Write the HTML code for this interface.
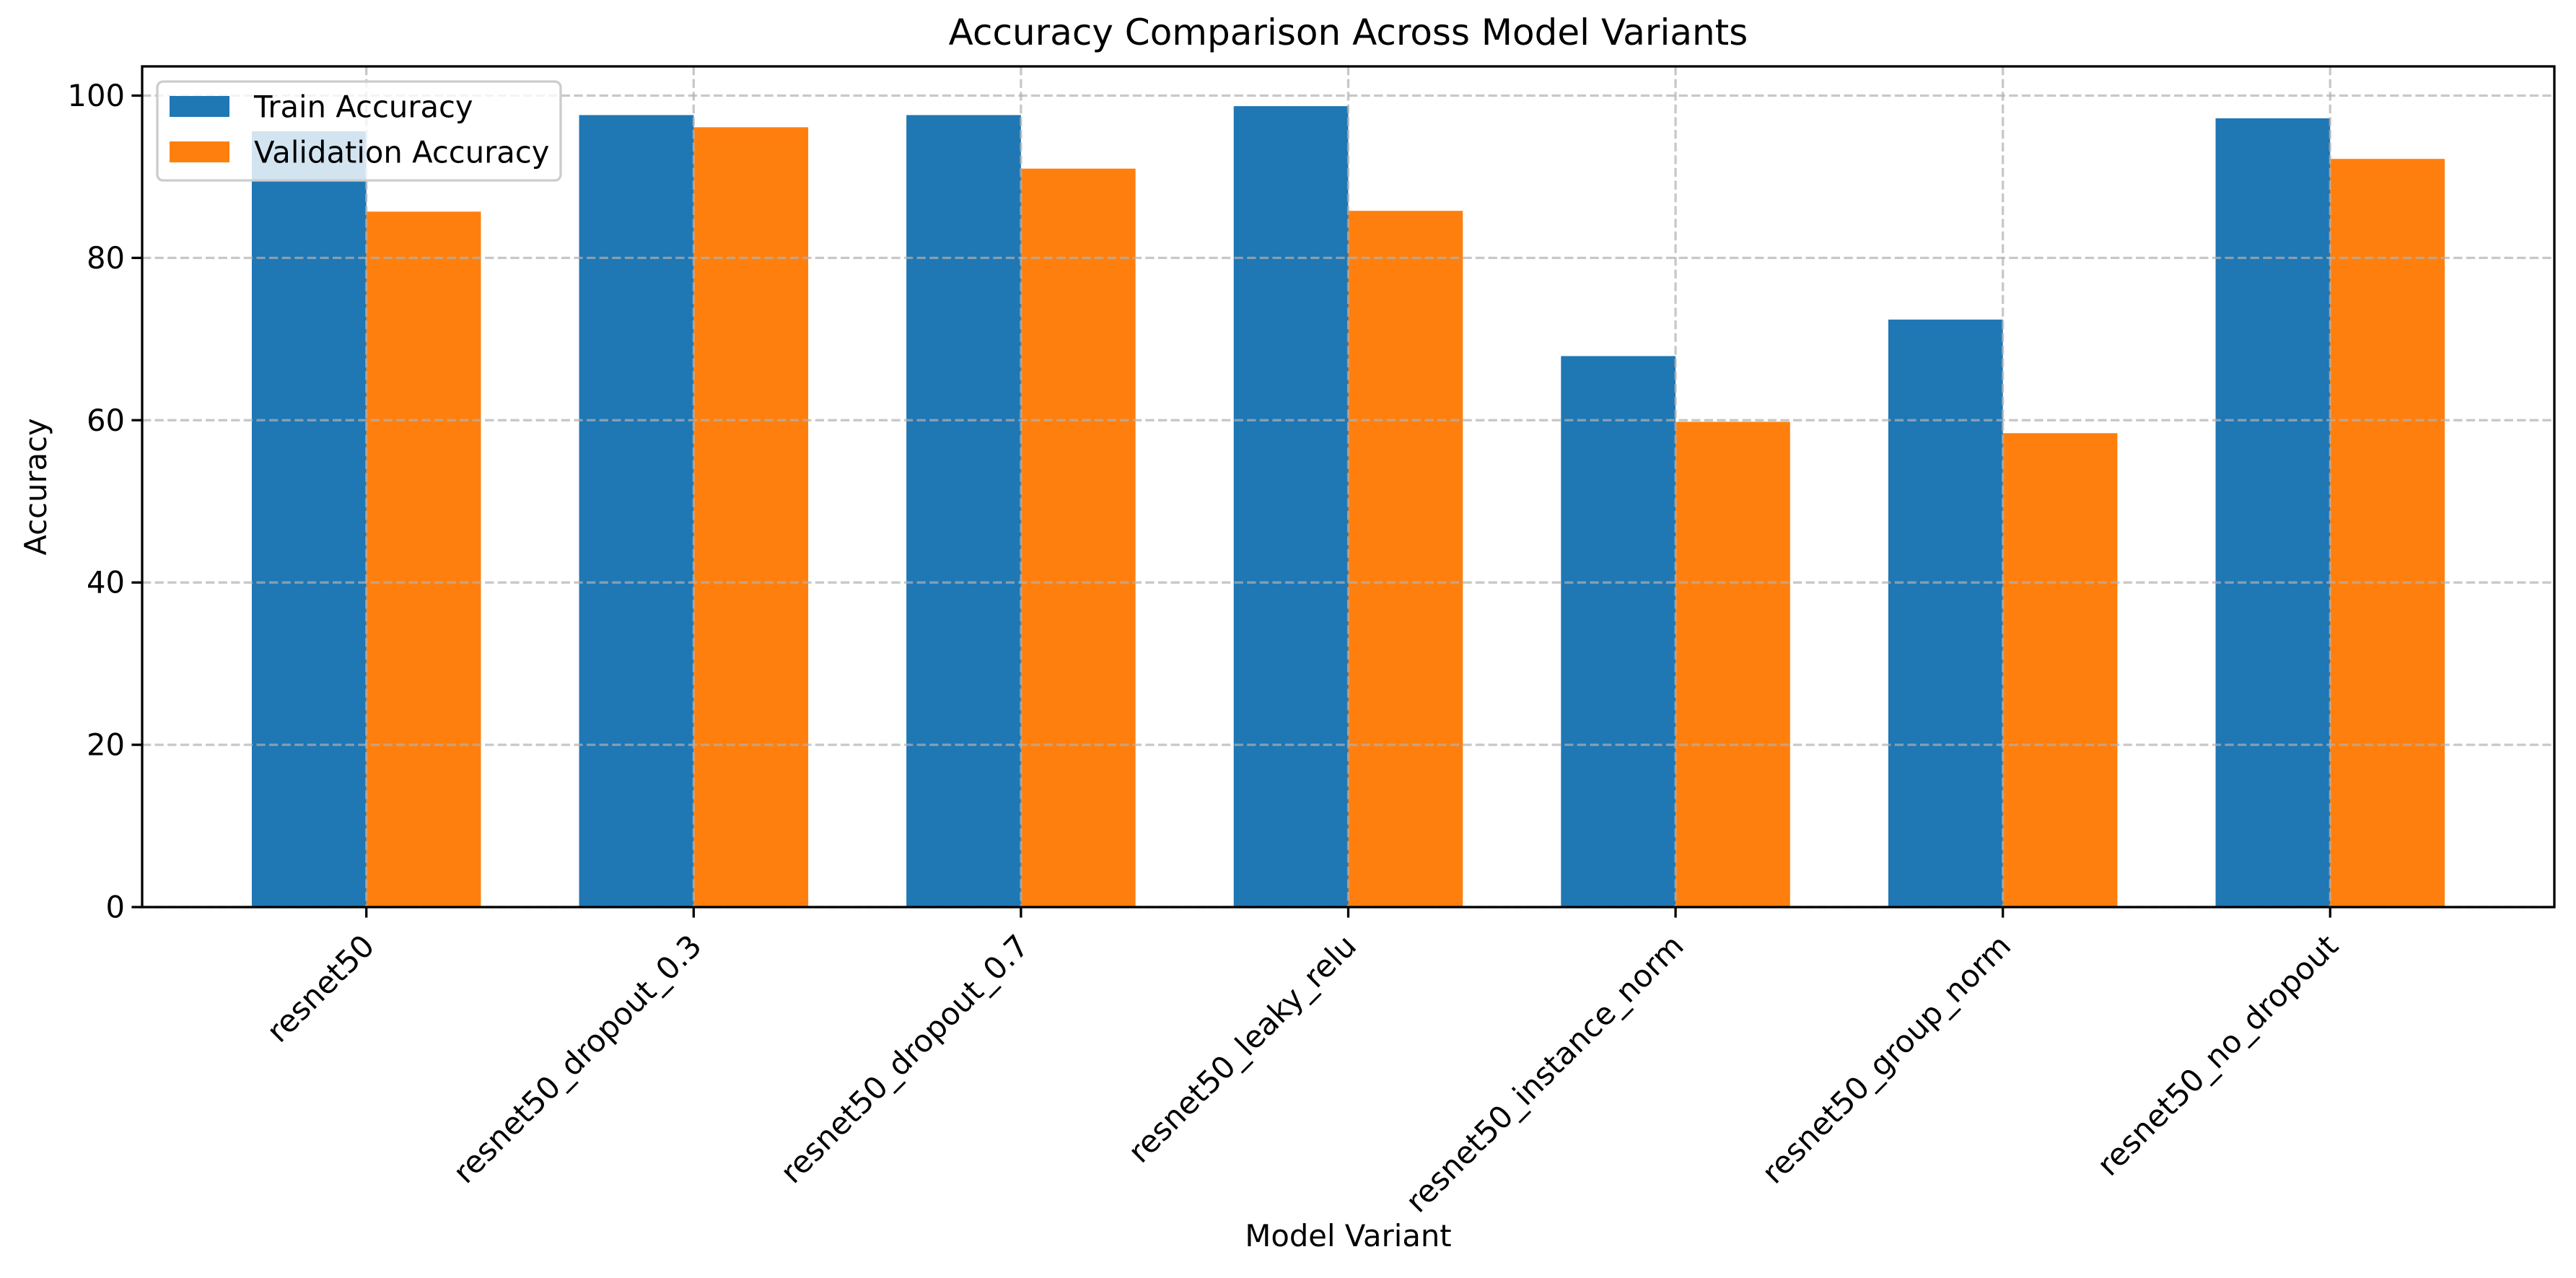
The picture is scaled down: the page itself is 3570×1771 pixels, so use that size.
<!DOCTYPE html>
<html><head><meta charset="utf-8"><style>
html,body{margin:0;padding:0;background:#fff;}
svg text{font-family:"DejaVu Sans","Liberation Sans",sans-serif;fill:#000;}
</style></head><body>
<svg id="chart" width="3570" height="1766" xmlns="http://www.w3.org/2000/svg">
<rect width="3570" height="1766" fill="#fff"/>
<g id="grid"></g>
<g id="bars"></g>
<g id="axes"></g>
<g id="legend"></g>
</svg>
<script>
const categories = ["resnet50","resnet50_dropout_0.3","resnet50_dropout_0.7","resnet50_leaky_relu","resnet50_instance_norm","resnet50_group_norm","resnet50_no_dropout"];
const trainAcc = [95.6, 97.6, 97.6, 98.7, 67.9, 72.4, 97.2];
const valAcc = [85.7, 96.1, 91.0, 85.8, 59.8, 58.4, 92.2];
const yTicks = [0, 20, 40, 60, 80, 100];

const NS="http://www.w3.org/2000/svg";
const L=197, R=3540, T=92, B=1257;
const yMax=103.6, xMin=-0.685, xMax=6.685, bw=0.35;
const sx=v=>L+(v-xMin)/(xMax-xMin)*(R-L);
const sy=v=>B-v/yMax*(B-T);
function mk(tag,attrs,parent){const e=document.createElementNS(NS,tag);for(const k in attrs)e.setAttribute(k,attrs[k]);parent.appendChild(e);return e;}
const grid=document.getElementById('grid'),bars=document.getElementById('bars'),axes=document.getElementById('axes'),legend=document.getElementById('legend');
const gridStyle={stroke:"#b0b0b0","stroke-opacity":"0.7","stroke-width":"3.3","stroke-dasharray":"12.3,5.3"};

yTicks.forEach(t=>{
  const y=sy(t);
  const g=mk('line',Object.assign({x1:L,x2:R,y1:y,y2:y},gridStyle),grid);
  
  
  const tk=mk('line',{x1:L-14.6,x2:L,y1:y,y2:y,stroke:"#000","stroke-width":"3.3"},axes);
  
  
  const tx=mk('text',{x:L-24,y:y,"text-anchor":"end","dominant-baseline":"central","font-size":"41.7"},axes);
  tx.textContent=t;
  
  
});

categories.forEach((c,i)=>{
  const x=sx(i);
  const g=mk('line',Object.assign({x1:x,x2:x,y1:T,y2:B},gridStyle),grid);
  
  
  const b1=mk('rect',{x:sx(i-bw),y:sy(trainAcc[i]),width:sx(i)-sx(i-bw),height:B-sy(trainAcc[i]),fill:"#1f77b4"},bars);
  
  
  const b2=mk('rect',{x:sx(i),y:sy(valAcc[i]),width:sx(i+bw)-sx(i),height:B-sy(valAcc[i]),fill:"#ff7f0e"},bars);
  
  
  const tk=mk('line',{x1:x,x2:x,y1:B,y2:B+14.6,stroke:"#000","stroke-width":"3.3"},axes);
  
  
  const ax=x-8, ay=B+35;
  const tx=mk('text',{x:ax,y:ay,"text-anchor":"end","dominant-baseline":"hanging","font-size":"42.5",transform:`rotate(-45 ${ax} ${ay})`},axes);
  tx.textContent=c;
  
  
});
bars.parentNode.insertBefore(bars,grid);

const frame=mk('rect',{x:L,y:T,width:R-L,height:B-T,fill:"none",stroke:"#000","stroke-width":"3.3"},axes);



const title=mk('text',{x:(L+R)/2,y:62,"text-anchor":"middle","font-size":"50"},axes);
title.textContent="Accuracy Comparison Across Model Variants";


const xl=mk('text',{x:(L+R)/2,y:1727,"text-anchor":"middle","font-size":"41.7"},axes);
xl.textContent="Model Variant";


const yl=mk('text',{x:64,y:(T+B)/2,"text-anchor":"middle","font-size":"41.7",transform:`rotate(-90 64 ${(T+B)/2})`},axes);
yl.textContent="Accuracy";



const lb=mk('rect',{x:218,y:113,width:559,height:137,rx:8,fill:"#fff","fill-opacity":"0.8",stroke:"#cccccc","stroke-width":"3.3"},legend);


[["Train Accuracy","#1f77b4",133],["Validation Accuracy","#ff7f0e",196]].forEach(([n,col,y])=>{
  const p=mk('rect',{x:235,y:y,width:83,height:29,fill:col},legend);
  
  
  const t=mk('text',{x:352,y:y+15,"dominant-baseline":"central","font-size":"41.7"},legend);
  t.textContent=n;
  
  
});
</script>
</body></html>
